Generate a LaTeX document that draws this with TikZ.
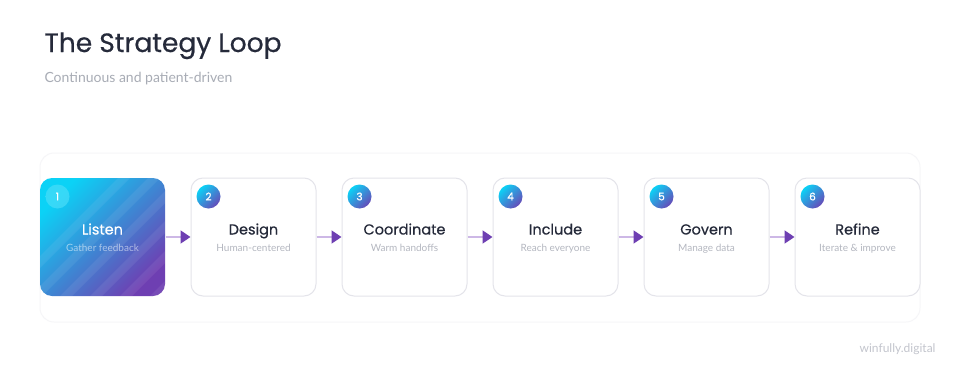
\documentclass[tikz,border=0pt]{standalone}
\usepackage{fontspec}
\setmainfont{Lato}
\newfontfamily\headfont[FakeBold=0.5]{Poppins}
\usetikzlibrary{arrows.meta, positioning, calc}
\definecolor{cink}{HTML}{252A3A}
\definecolor{cmuted}{HTML}{A8ACB5}
\definecolor{cfaint}{HTML}{B4B7C0}
\definecolor{cborder}{HTML}{E4E4EA}
\definecolor{cframe}{HTML}{F6F6F8}
\definecolor{ccyan}{HTML}{0BD2F6}
\definecolor{cblue}{HTML}{3C8CDB}
\definecolor{cpurple}{HTML}{6E3FB2}
\definecolor{clink}{HTML}{CDB8E6}
\tikzset{
  every picture/.style={line width=1pt},
  card/.style={draw=cborder, fill=white, rounded corners=12pt, minimum width=125pt, minimum height=118pt, inner sep=0pt},
  badge/.style={circle, minimum size=24pt, inner sep=0pt, text=white, font=\headfont\fontsize{10.5}{10.5}\selectfont,
    top color=ccyan, bottom color=cpurple!85!cblue, shading angle=45},
  steplabel/.style={anchor=base, text=cink, font=\headfont\fontsize{14.5}{14.5}\selectfont},
  stepnote/.style={anchor=base, text=cfaint, font=\fontsize{10}{10}\selectfont},
  flow/.style={draw=clink, line width=1.6pt, -{Triangle[length=10pt, width=13pt, color=cpurple]}},
}

\begin{document}
\begin{tikzpicture}[x=1pt, y=-1pt]
  \useasboundingbox[fill=white] (0,0) rectangle (960,372);
  % heading
  \node[anchor=base west, inner sep=0pt, text=cink, font=\headfont\fontsize{26.5}{26.5}\selectfont] (title) at (44,52) {The Strategy Loop};
  \node[anchor=base west, inner sep=0pt, text=cmuted, font=\fontsize{14}{14}\selectfont] (subtitle) at (44,82) {Continuous and patient-driven};
  % faint loop frame
  \draw[cframe, rounded corners=14pt] (40,153) rectangle (920,322);
  % cards
  \node[card, draw=none, top color=ccyan, bottom color=cpurple, shading angle=45] (listen) at (102.5,237) {};
  \node[card, right=25pt of listen] (design) {};
  \node[card, right=25pt of design] (coord) {};
  \node[card, right=25pt of coord] (include) {};
  \node[card, right=25pt of include] (govern) {};
  \node[card, right=25pt of govern] (refine) {};
  % stripes on the first card
  \begin{scope}
    \clip[rounded corners=12pt] (listen.north west) rectangle (listen.south east);
    \foreach \d in {-40,-10,20,50,80,110,140} {
      \fill[white, opacity=0.07] ($(listen.south west)+(\d,0)$) -- ++(12,0) -- ++(130,-130) -- ++(-12,0) -- cycle;
    }
  \end{scope}
  % badges
  \node[badge, shading=axis, top color=white!30!ccyan, bottom color=white!30!ccyan, fill opacity=0.6, text opacity=1] (b1) at ([xshift=18pt, yshift=-19pt]listen.north west) {1};
  \node[badge] (b2) at ([xshift=18pt, yshift=-19pt]design.north west) {2};
  \node[badge] (b3) at ([xshift=18pt, yshift=-19pt]coord.north west) {3};
  \node[badge] (b4) at ([xshift=18pt, yshift=-19pt]include.north west) {4};
  \node[badge] (b5) at ([xshift=18pt, yshift=-19pt]govern.north west) {5};
  \node[badge] (b6) at ([xshift=18pt, yshift=-19pt]refine.north west) {6};
  % labels
  \node[steplabel, text=white] (listen-t) at ([yshift=-57pt]listen.north) {Listen};
  \node[stepnote, text=white, text opacity=0.55] (listen-n) at ([yshift=-74pt]listen.north) {Gather feedback};
  \node[steplabel] (design-t) at ([yshift=-57pt]design.north) {Design};
  \node[stepnote] (design-n) at ([yshift=-74pt]design.north) {Human-centered};
  \node[steplabel] (coord-t) at ([yshift=-57pt]coord.north) {Coordinate};
  \node[stepnote] (coord-n) at ([yshift=-74pt]coord.north) {Warm handoffs};
  \node[steplabel] (include-t) at ([yshift=-57pt]include.north) {Include};
  \node[stepnote] (include-n) at ([yshift=-74pt]include.north) {Reach everyone};
  \node[steplabel] (govern-t) at ([yshift=-57pt]govern.north) {Govern};
  \node[stepnote] (govern-n) at ([yshift=-74pt]govern.north) {Manage data};
  \node[steplabel] (refine-t) at ([yshift=-57pt]refine.north) {Refine};
  \node[stepnote] (refine-n) at ([yshift=-74pt]refine.north) {Iterate \& improve};
  % connectors
  \draw[flow] (listen) -- (design);
  \draw[flow] (design) -- (coord);
  \draw[flow] (coord) -- (include);
  \draw[flow] (include) -- (govern);
  \draw[flow] (govern) -- (refine);
  % footer
  \node[anchor=base east, inner sep=0pt, text=cfaint!80, font=\fontsize{12}{12}\selectfont] (brand) at (936,352) {winfully.digital};
\end{tikzpicture}
\end{document}
